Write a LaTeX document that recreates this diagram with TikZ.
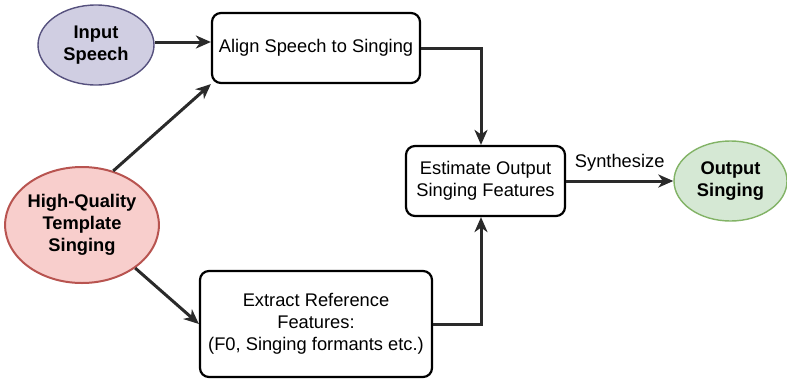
\documentclass[tikz,border=0pt]{standalone}
\usepackage{fontspec}
\setmainfont{Liberation Sans}
\usetikzlibrary{shapes.geometric,arrows.meta}
\definecolor{purpfill}{HTML}{D0CEE2}
\definecolor{purpline}{HTML}{56517E}
\definecolor{redfill}{HTML}{F8CECC}
\definecolor{redline}{HTML}{B85450}
\definecolor{grnfill}{HTML}{D5E8D4}
\definecolor{grnline}{HTML}{82B366}
\definecolor{arrowcol}{HTML}{2A2A2A}
\begin{document}
\begin{tikzpicture}[x=1pt,y=-1pt,
  txt/.style={font=\fontsize{18.3}{21.8}\selectfont, align=center, inner sep=0pt},
  oval/.style={txt, ellipse, line width=1.4pt, font=\fontsize{18.3}{21.8}\selectfont\bfseries},
  procbox/.style={txt, rectangle, draw=black, line width=2.2pt, rounded corners=9pt, fill=white},
  conn/.style={draw=arrowcol, line width=3pt, -{Stealth[length=15pt,width=13pt,inset=4.5pt]}}]
\useasboundingbox (0,0) rectangle (787,378);
\node[oval, draw=purpline, fill=purpfill, minimum width=116pt, minimum height=80pt] (inp) at (96,45) {Input\\Speech};
\node[oval, draw=redline, fill=redfill, minimum width=144pt, minimum height=116pt, line width=2pt] (hq) at (82,225) {High-Quality\\Template\\Singing};
\node[oval, draw=grnline, fill=grnfill, minimum width=113pt, minimum height=80pt] (out) at (730.5,181) {Output\\Singing};
\node[procbox, minimum width=208pt, minimum height=70pt] (align) at (316,48) {Align Speech to Singing};
\node[procbox, minimum width=159pt, minimum height=70pt] (est) at (485.5,181) {Estimate Output\\Singing Features};
\node[procbox, minimum width=232pt, minimum height=106pt] (ext) at (316,324) {Extract Reference\\Features:\\(F0, Singing formants etc.)};
\draw[conn] ([yshift=3pt]inp.east) -- ([yshift=3pt]inp.east -| align.west);
\draw[conn] (hq.60) -- (align.south west);
\draw[conn] (hq.-39) -- (ext.west);
\draw[conn] (align.east) -| ([xshift=-4.5pt]est.north);
\draw[conn] (ext.east) -| ([xshift=-4.5pt]est.south);
\draw[conn] (est.east) -- node[txt, above=8pt] (syn) {Synthesize} (out.west);
\end{tikzpicture}
\end{document}
